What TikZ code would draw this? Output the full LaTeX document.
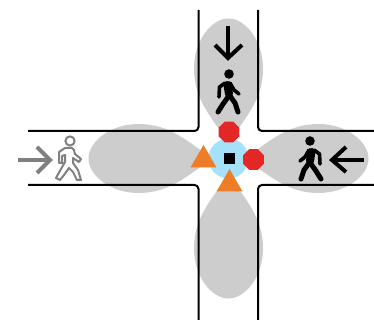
\documentclass[tikz,border=0pt]{standalone}
\usepackage{xcolor}
\usepackage{tikz}
\usetikzlibrary{shapes.geometric}
\definecolor{mygray}{HTML}{CDCDCD}
\definecolor{myred}{HTML}{E32626}
\definecolor{myorange}{HTML}{ED7D26}
\definecolor{mycyan}{HTML}{A6E1FA}
\definecolor{myarrow}{HTML}{808080}

\tikzset{
  roadline/.style={line width=2pt, black, rounded corners=4pt},
  petal/.style={fill=mygray, draw=none},
  stopsign/.style={regular polygon, regular polygon sides=8, fill=myred, minimum size=22.5, inner sep=0pt},
  yieldsign/.style={regular polygon, regular polygon sides=3, fill=myorange, minimum size=30, inner sep=0pt},
  bararrow/.style={line width=4pt, miter limit=10},
  pics/walker/.style={code={
    \fill[#1] (0,0) circle (4.8);
    \draw[#1, line width=8pt, line cap=round] (-1.5,11) -- (0,20);
    \draw[#1, line width=3.6pt, line cap=round, line join=round] (-4,9) -- (-9.5,13) -- (-10,23);
    \draw[#1, line width=3.6pt, line cap=round, line join=round] (1,9) -- (5,16) -- (10,20);
    \draw[#1, line width=5pt, line cap=round, line join=round] (-1,23) -- (-6,30) -- (-11,38);
    \draw[#1, line width=5pt, line cap=round, line join=round] (1,22) -- (6,29) -- (9,38);
  }},
  pics/hollowwalker/.style={code={
    \draw[myarrow, line width=2pt] (0,0) circle (4.6);
    \draw[myarrow, line width=2pt, line cap=round, line join=round, fill=white]
      (-5,7) -- (2,7) .. controls (4,7) and (4,10) .. (5,13) -- (11,18) -- (9,21) -- (3,17)
      -- (3,22) -- (8,29) -- (11,39) -- (7,39) -- (3,31) -- (-1,27) -- (-6,34) -- (-10,39) -- (-14,37)
      -- (-9,28) -- (-5,21) -- (-5,14) -- (-8,15) -- (-8,22) -- (-11,22) -- (-11,11) -- cycle;
  }},
}

\begin{document}
\begin{tikzpicture}[x=1pt, y=-1pt]
  \useasboundingbox (0,0) rectangle (374,320);

  % Four petals around the crossing
  \foreach \ang in {0, 90, 180, 270} {
    \fill[petal, shift={(228.5,158.5)}, rotate=\ang]
      (16,0) .. controls (40,16) and (58,34.5) .. (90,34.5)
      .. controls (118,34.5) and (140,17) .. (140,0)
      .. controls (140,-17) and (118,-34.5) .. (90,-34.5)
      .. controls (58,-34.5) and (40,-16) .. (16,0) -- cycle;
  }

  % Road edges
  \draw[roadline] (28,131) -- (198.5,131) -- (198.5,10);
  \draw[roadline] (258,10) -- (258,131) -- (374,131);
  \draw[roadline] (28,185) -- (198.5,185) -- (198.5,320);
  \draw[roadline] (374,185) -- (258,185) -- (258,320);

  % Signs in the middle
  \node[circle, fill=mycyan, minimum size=40, inner sep=0pt] (hub) at (228.5,158.5) {};
  \node[fill=black, minimum size=11, inner sep=0pt] (signal) at (229.5,158.5) {};
  \node[stopsign] (stoptop) at (229,132) {};
  \node[stopsign] (stopright) at (253.5,159.5) {};
  \node[yieldsign] (yieldleft) at (203.5,160) {};
  \node[yieldsign] (yieldbottom) at (229.5,184) {};

  % Arrows
  \draw[bararrow] (228,26) -- (228,58);
  \draw[bararrow, line join=miter] (215,45) -- (228,58) -- (242,45);
  \draw[bararrow] (364,160) -- (333,160);
  \draw[bararrow] (346,147) -- (332,160) -- (346,172);
  \draw[bararrow, myarrow] (18,160) -- (50,160);
  \draw[bararrow, myarrow] (37,147) -- (50,160) -- (37,173);

  % Walkers
  \pic at (229,74) {walker=black};
  \pic[xscale=-1] at (310,141) {walker=black};
  \pic at (70,141) {hollowwalker};
\end{tikzpicture}
\end{document}
